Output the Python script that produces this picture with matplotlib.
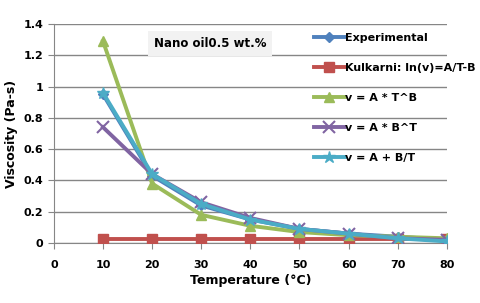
import numpy as np
import matplotlib
matplotlib.use("Agg")
import matplotlib.pyplot as plt
from matplotlib.ticker import FuncFormatter

temps = [10, 20, 30, 40, 50, 60, 70, 80]
experimental = [0.95, 0.43, 0.24, 0.15, 0.09, 0.06, 0.04, 0.02]
kulkarni = [0.025, 0.025, 0.025, 0.025, 0.025, 0.025, 0.025, 0.025]
power_law = [1.29, 0.38, 0.18, 0.11, 0.07, 0.05, 0.04, 0.03]
expo_law = [0.74, 0.44, 0.26, 0.16, 0.09, 0.06, 0.03, 0.02]
recip_law = [0.96, 0.44, 0.25, 0.15, 0.09, 0.06, 0.03, 0.01]

labels = ["Experimental", "Kulkarni: ln(v)=A/T-B", "v = A * T^B",
          "v = A * B^T", "v = A + B/T"]
series = [experimental, kulkarni, power_law, expo_law, recip_law]
colors = ["#4F81BD", "#C0504D", "#9BBB59", "#8064A2", "#4BACC6"]
markers = ["D", "s", "^", "x", "*"]
msizes = [5, 7, 7, 8, 9]

plt.rcParams['font.family'] = ['DejaVu Sans']

fig = plt.figure(figsize=(4.81, 3.03), dpi=100)
ax = fig.add_axes([0.112, 0.198, 0.817, 0.723])

handles = []
for ys, c, m, ms, lab in zip(series, colors, markers, msizes, labels):
    h, = ax.plot(temps, ys, color=c, lw=2.8, marker=m, ms=ms,
                 mec=c, mew=1.5 if m == "x" else 1, label=lab, zorder=3)
    handles.append(h)

ax.set_xlim(0, 80)
ax.set_ylim(0, 1.4)
ax.set_xticks(range(0, 81, 10))
ax.set_yticks(np.arange(0, 1.41, 0.2))
ax.yaxis.set_major_formatter(FuncFormatter(lambda v, p: "%g" % round(v, 1)))
ax.yaxis.grid(True, color="#868686", lw=1)
ax.set_axisbelow(True)
for s in ["top", "right"]:
    ax.spines[s].set_visible(False)
for s in ["left", "bottom"]:
    ax.spines[s].set_color("#868686")
ax.tick_params(axis="both", colors="#868686", length=4, labelsize=8,
               labelcolor="black")
for t in ax.get_xticklabels() + ax.get_yticklabels():
    t.set_fontweight("bold")
ax.tick_params(axis="x", pad=8)

ax.set_xlabel("Temperature (°C)", fontsize=9, fontweight="bold", labelpad=3)
ax.set_ylabel("Viscosity (Pa-s)", fontsize=9, fontweight="bold", labelpad=4)

ax.text(31.8, 1.275, "Nano oil0.5 wt.%", fontsize=8.5, fontweight="bold",
        ha="center", va="center",
        bbox=dict(boxstyle="square,pad=0.5", fc="#F2F2F2", ec="none"))

leg = fig.legend(handles=handles, loc="upper left",
                 bbox_to_anchor=(0.643, 0.905), frameon=False,
                 fontsize=8, labelspacing=1.8, handlelength=2.8,
                 handletextpad=0.0, borderaxespad=0)
for t in leg.get_texts():
    t.set_fontweight("bold")

fig.savefig("out.png", dpi=100)
